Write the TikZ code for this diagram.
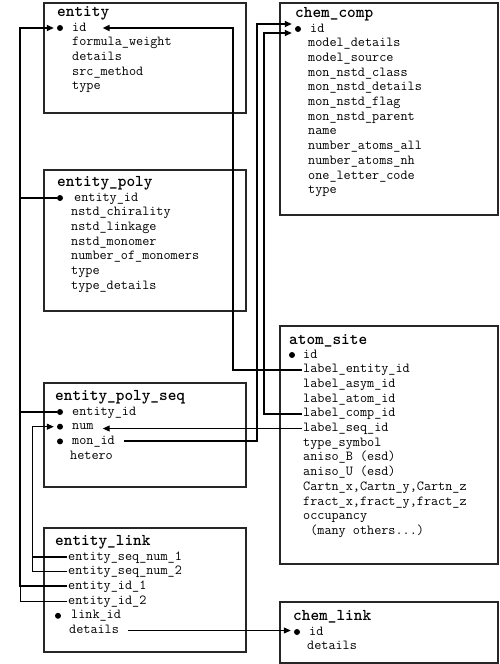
\documentclass[tikz,border=0pt]{standalone}
\usetikzlibrary{arrows.meta}
\tikzset{
box/.style={draw=black!85,line width=1.6pt,anchor=north west,inner sep=0pt},
tname/.style={anchor=west,inner sep=0pt,text height=10pt,text depth=3pt,font=\ttfamily\bfseries\fontsize{16.5}{18}\selectfont},
field/.style={anchor=west,inner sep=0pt,text height=8pt,text depth=2pt,font=\ttfamily\fontsize{13.8}{15}\selectfont},
dot/.style={circle,fill,inner sep=0pt,minimum size=6pt},
fk/.style={line width=2pt},
fkthin/.style={line width=1pt},
fkarrow/.style={-{Triangle[length=7pt,width=6pt]}}
}
\begin{document}
\begin{tikzpicture}[x=1pt,y=-1pt]
\useasboundingbox (0,0) rectangle (499,664);
\node[box,minimum width=202,minimum height=110] (entity) at (43,2) {};
\node[box,minimum width=218,minimum height=212] (chem-comp) at (279,2) {};
\node[box,minimum width=202,minimum height=141] (entity-poly) at (43,169) {};
\node[box,minimum width=202,minimum height=104] (entity-poly-seq) at (43,382) {};
\node[box,minimum width=218,minimum height=238] (atom-site) at (279,325) {};
\node[box,minimum width=202,minimum height=124] (entity-link) at (43,527) {};
\node[box,minimum width=218,minimum height=61] (chem-link) at (279,601) {};

\node[tname] at (57,13) {entity};
\node[dot] (ent-b) at (60,28) {};
\node[field] (ent-0) at (72,28) {id};
\foreach \t [count=\i] in {formula\_weight,details,src\_method,type}
\node[field] (ent-\i) at (72,{28+14.7*\i}) {\t};

\node[tname] at (295,14) {chem\_comp};
\node[dot] (cc-b) at (298,29) {};
\node[field] (cc-0) at (310,29) {id};
\foreach \t [count=\i] in {model\_details,model\_source,mon\_nstd\_class,mon\_nstd\_details,mon\_nstd\_flag,mon\_nstd\_parent,name,number\_atoms\_all,number\_atoms\_nh,one\_letter\_code,type}
\node[field] (cc-\i) at (308,{29+14.7*\i}) {\t};

\node[tname] at (57,183) {entity\_poly};
\node[dot] (ep-b) at (60,198) {};
\node[field] (ep-0) at (74,198) {entity\_id};
\foreach \t [count=\i] in {nstd\_chirality,nstd\_linkage,nstd\_monomer,number\_of\_monomers,type,type\_details}
\node[field] (ep-\i) at (71,{198+14.7*\i}) {\t};

\node[tname] at (55,397) {entity\_poly\_seq};
\foreach \t [count=\i from 0] in {entity\_id,num,mon\_id}{
\node[dot] (eps-b\i) at (60,{412+14.7*\i}) {};
\node[field] (eps-\i) at (72,{412+14.7*\i}) {\t};
}
\node[field] (eps-3) at (70,456.1) {hetero};

\node[tname] at (289,341) {atom\_site};
\node[dot] (as-b) at (292,355) {};
\foreach \t [count=\i from 0] in {id,label\_entity\_id,label\_asym\_id,label\_atom\_id,label\_comp\_id,label\_seq\_id,type\_symbol,aniso\_B (esd),aniso\_U (esd),{Cartn\_x,Cartn\_y,Cartn\_z},{fract\_x,fract\_y,fract\_z},occupancy,{\ (many others.{}.{}.)}}
\node[field] (as-\i) at (303,{355+14.7*\i}) {\t};

\node[tname] at (55,542) {entity\_link};
\foreach \t [count=\i from 0] in {entity\_seq\_num\_1,entity\_seq\_num\_2,entity\_id\_1,entity\_id\_2}
\node[field] (lk-\i) at (68,{557+14.7*\i}) {\t};
\node[dot] (lk-b) at (58,615.8) {};
\node[field] (lk-4) at (71,615.8) {link\_id};
\node[field] (lk-5) at (69,630.5) {details};

\node[tname] at (293,617) {chem\_link};
\node[dot] (cl-b) at (297,632) {};
\node[field] (cl-0) at (309,632) {id};
\node[field] (cl-1) at (307,646.7) {details};

\coordinate (tr1) at (20,0);
\coordinate (tr2) at (32,0);
\coordinate (tr3) at (233,0);
\coordinate (tr4) at (257,0);
\coordinate (tr5) at (264,0);
\coordinate (cc-in1) at ([yshift=5pt]cc-b.west);
\coordinate (cc-in2) at ([yshift=-4pt]cc-b.west);

\draw[fk,fkarrow,shorten >=3pt] ([xshift=-1.5pt]lk-2.west) -| (tr1 |- ent-b) -- (ent-b);
\draw[fkthin] ([xshift=-1.5pt]lk-3.west) -| (tr1 |- lk-2);
\draw[fk] (ep-b) -- (ep-b -| tr1);
\draw[fk] (eps-b0) -- (eps-b0 -| tr1);
\draw[fkthin,fkarrow,shorten >=3pt] ([xshift=-1.5pt]lk-1.west) -| (tr2 |- eps-b1) -- (eps-b1);
\draw[fk] ([xshift=-1.5pt]lk-0.west) -- (lk-0 -| tr2);
\draw[fk,fkarrow,shorten >=16pt] ([xshift=-1.5pt]as-1.west) -| (tr3 |- ent-0) -- (ent-0.east);
\draw[fk,fkarrow,shorten <=9pt,shorten >=3pt] (eps-2.east) -| (tr4 |- cc-in1) -- (cc-in1);
\draw[fk,fkarrow,shorten >=3pt] ([xshift=-1.5pt]as-4.west) -| (tr5 |- cc-in2) -- (cc-in2);
\draw[fkthin,fkarrow,shorten >=9pt] ([xshift=-1.5pt]as-5.west) -- (eps-1.east |- as-5);
\draw[fkthin,fkarrow,shorten <=9pt,shorten >=3pt] (lk-5.east) -- (lk-5 -| cl-b.west);
\end{tikzpicture}
\end{document}
